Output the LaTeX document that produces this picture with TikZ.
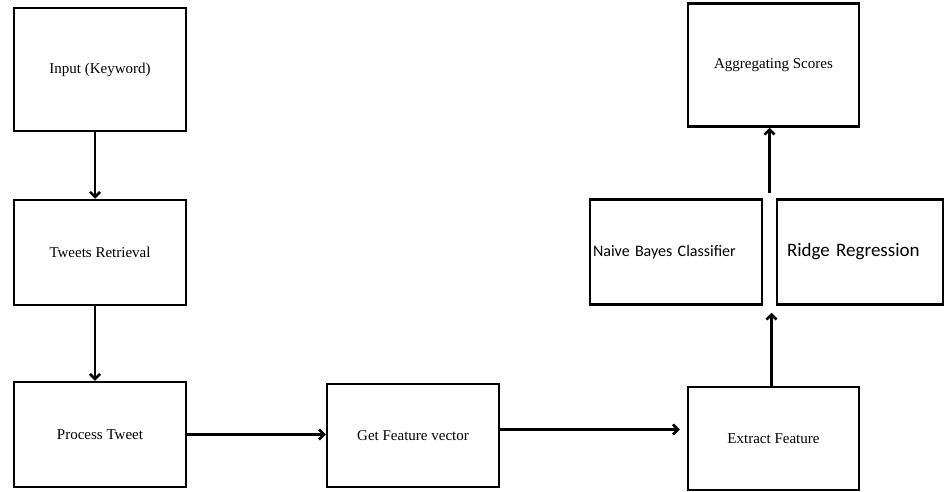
\documentclass[tikz,border=0pt]{standalone}
\usepackage{fontspec}
\setmainfont{Liberation Serif}
\newfontfamily\calibri{Carlito}
\usetikzlibrary{arrows.meta}

\begin{document}
\begin{tikzpicture}[x=1pt,y=-1pt,>={Straight Barb[length=5pt,width=10pt]},
	box/.style={draw,line width=2.5pt,minimum width=172pt,minimum height=105pt,inner sep=0pt,font=\fontsize{15}{18}\selectfont},
	flow/.style={->,line width=2.5pt}]
	\useasboundingbox (0,0) rectangle (945,492);
	\node[box,minimum height=123pt] (input) at (100,69.5) {Input (Keyword)};
	\node[box] (retrieval) at (100,252.5) {Tweets Retrieval};
	\node[box] (process) at (100,434.5) {Process Tweet};
	\node[box,minimum height=103pt] (feature) at (413,435.5) {Get Feature vector};
	\node[box,minimum width=171pt,minimum height=103pt] (extract) at (773.5,438.5) {Extract Feature};
	\node[box,text width=166pt,align=left,font=\calibri\fontsize{16}{19}\selectfont] (naive) at (676,252) {Naive Bayes Classifier};
	\node[box,minimum width=166pt,text width=146pt,align=left,font=\calibri\fontsize{19}{22}\selectfont] (ridge) at (860,252) {Ridge Regression};
	\node[box,minimum width=171pt,minimum height=123pt] (aggregate) at (773.5,65) {Aggregating Scores};
	\coordinate (top) at ([xshift=-4pt]aggregate.south);
	\coordinate (bottom) at ([xshift=-2pt]extract.north);
	\draw[flow] ([xshift=-5pt]input.south) -- ([xshift=-5pt]retrieval.north);
	\draw[flow] ([xshift=-5pt]retrieval.south) -- ([xshift=-5pt]process.north);
	\draw[flow] (process.east) -- (process.east -| feature.west);
	\draw[flow,shorten >=7pt] ([yshift=6pt]feature.east) -- ([yshift=6pt]feature.east -| extract.west);
	\draw[flow,shorten >=7pt] (bottom) -- (bottom |- naive.south);
	\draw[flow,shorten <=5pt] (top |- naive.north) -- (top);
\end{tikzpicture}
\end{document}
